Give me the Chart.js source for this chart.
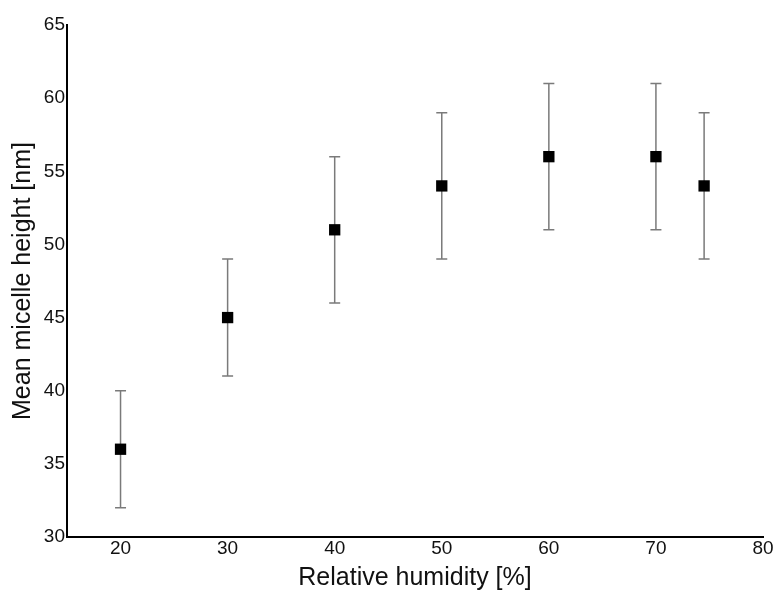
<!DOCTYPE html>
<html>
<head>
<meta charset="utf-8">
<script src="https://cdn.jsdelivr.net/npm/chart.js@4"></script>
<style>
  html, body { margin: 0; padding: 0; background: #fff; }
  #wrap { width: 776px; height: 591px; }
</style>
</head>
<body>
<div id="wrap"><canvas id="chart" width="776" height="591"></canvas></div>
<script>
// humidity series: mean height with lower/upper error bounds
const humidity = [20, 30, 40, 50, 60, 70, 74.5];
const meanHeight = [36, 45, 51, 54, 56, 56, 54];
const errLow = [32, 41, 46, 49, 51, 51, 49];
const errHigh = [40, 49, 56, 59, 61, 61, 59];

const xTicks = [20, 30, 40, 50, 60, 70, 80];
const yTicks = [30, 35, 40, 45, 50, 55, 60, 65];

const font = "Arial, 'Liberation Sans', sans-serif";

// vertical error bars with small caps, drawn under the markers
const errorBars = {
    id: 'errorBars',
    beforeDatasetsDraw(chart) {
        const { ctx, scales: { x, y } } = chart;
        ctx.save();
        ctx.strokeStyle = '#7a7a7a';
        ctx.lineWidth = 1.5;
        humidity.forEach((h, i) => {
            const px = x.getPixelForValue(h);
            const top = y.getPixelForValue(errHigh[i]);
            const bot = y.getPixelForValue(errLow[i]);
            ctx.beginPath();
            ctx.moveTo(px, top);
            ctx.lineTo(px, bot);
            ctx.moveTo(px - 5.5, top);
            ctx.lineTo(px + 5.5, top);
            ctx.moveTo(px - 5.5, bot);
            ctx.lineTo(px + 5.5, bot);
            ctx.stroke();
        });
        ctx.restore();
    }
};

new Chart(document.getElementById('chart').getContext('2d'), {
    type: 'scatter',
    data: {
        datasets: [{
            data: humidity.map((h, i) => ({ x: h, y: meanHeight[i] })),
            pointStyle: 'rect',
            pointRadius: 8,
            pointHoverRadius: 8,
            backgroundColor: '#000',
            borderColor: '#000',
            borderWidth: 0
        }]
    },
    options: {
        responsive: false,
        animation: false,
        layout: { padding: { top: 25, right: 13, left: 0, bottom: 0 } },
        plugins: { legend: { display: false }, tooltip: { enabled: false } },
        scales: {
            x: {
                type: 'linear',
                min: 15,
                max: 80,
                afterBuildTicks: (axis) => { axis.ticks = xTicks.map(v => ({ value: v })); },
                afterFit: (axis) => { axis.height = 54; },
                grid: { display: false, drawTicks: false },
                border: { display: true, color: '#000', width: 2 },
                ticks: { color: '#111', padding: 0, font: { family: font, size: 19 } },
                title: {
                    display: true,
                    text: 'Relative humidity [%]',
                    color: '#111',
                    padding: { top: 0, bottom: 0 },
                    font: { family: font, size: 25, lineHeight: 1 }
                }
            },
            y: {
                min: 30,
                max: 65,
                afterBuildTicks: (axis) => { axis.ticks = yTicks.map(v => ({ value: v })); },
                afterFit: (axis) => { axis.width = 67; },
                grid: { display: false, drawTicks: false },
                border: { display: true, color: '#000', width: 2 },
                ticks: { color: '#111', padding: 2, font: { family: font, size: 19 } },
                title: {
                    display: true,
                    text: 'Mean micelle height [nm]',
                    color: '#111',
                    padding: { top: 11, bottom: 0 },
                    font: { family: font, size: 25, lineHeight: 1 }
                }
            }
        }
    },
    plugins: [errorBars]
});
</script>
</body>
</html>
